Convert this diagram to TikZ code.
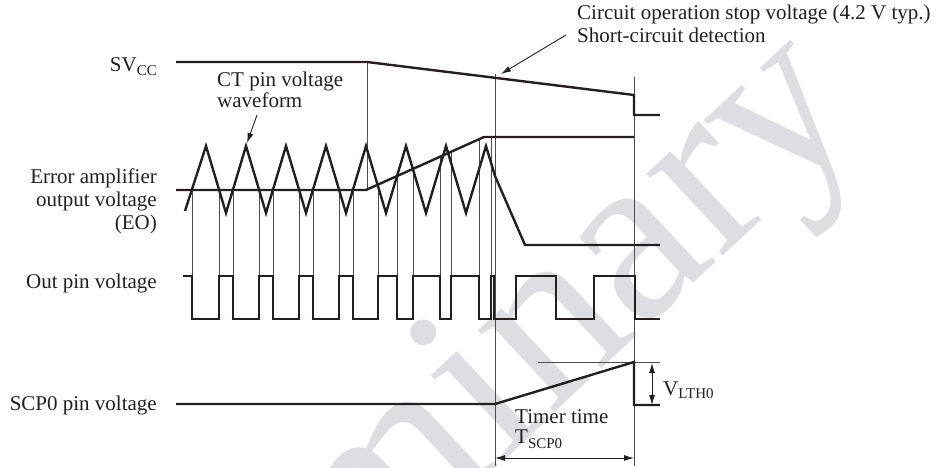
\documentclass[tikz,border=0pt]{standalone}
\usepackage{fontspec}
\setmainfont{Liberation Serif}
\usetikzlibrary{arrows.meta}
\definecolor{wm}{RGB}{221,222,225}
\definecolor{ink}{RGB}{35,31,32}
\newcommand{\lowsub}[2]{\raisebox{-#2}{\fontsize{15}{15}\selectfont #1}}
\begin{document}
\begin{tikzpicture}[x=1pt,y=-1pt,
  sig/.style={line width=2.4pt, ink, line join=miter},
  guide/.style={line width=0.9pt, ink!80},
  lbl/.style={font=\fontsize{21}{23}\selectfont, inner sep=0pt, text=ink},
  arr/.style={line width=0.9pt, ink, -{Latex[length=10pt,width=6pt]}},
  darr/.style={line width=0.9pt, ink, {Latex[length=10pt,width=6pt]}-{Latex[length=10pt,width=6pt]}}]
\useasboundingbox (0,0) rectangle (942,468);
\begin{scope}
\clip (0,0) rectangle (942,468);
\node[anchor=base west, rotate=43, inner sep=0pt, text=wm, font=\fontsize{244}{244}\selectfont] (wmark) at (25,907) {Preliminary};
\end{scope}

% guide lines
\draw[guide] (367,62) coordinate (g1t) -- (367,190) coordinate (g1b);
\draw[guide] (495,74) coordinate (g2t) -- (495,466) coordinate (g2b);
\draw[guide] (634,77) coordinate (g3t) -- (634,466) coordinate (g3b);
\foreach \x in {192,219,233,259,273,299,313,339,353}
  \draw[guide] (\x,190) -- (\x,276);
\foreach \x in {378,397,413,440,451,479}
  \draw[guide] (\x,{190-0.449*(\x-366)}) -- (\x,276);
\draw[guide] (491,137) -- (491,276);
\draw[guide] (538,362) coordinate (lt) -- (660,362) coordinate (lte);

% SVcc
\draw[sig] (176,62) coordinate (sv0) -- (367,62) -- (634,95) -- (634,115) -- (660,115) coordinate (sv1);
% EO
\draw[sig] (176,190) coordinate (eo0) -- (366,190) -- (484,137) -- (634,137) coordinate (eo1);
% CT triangle
\draw[sig] (185,211) coordinate (ct0)
  \foreach \k in {0,...,6} { -- ({206+40*\k},146) -- ({226+40*\k},213) }
  -- (486,146) -- (495,176) -- (525,245) -- (660,245) coordinate (ct1);
% Out pin
\draw[sig] (183,276) coordinate (op0) -- (192,276) -- (192,319) -- (219,319) -- (219,276) -- (233,276) -- (233,319)
  -- (259,319) -- (259,276) -- (273,276) -- (273,319) -- (299,319) -- (299,276) -- (313,276) -- (313,319)
  -- (339,319) -- (339,276) -- (353,276) -- (353,319) -- (378,319) -- (378,276) -- (397,276) -- (397,319)
  -- (413,319) -- (413,276) -- (440,276) -- (440,319) -- (451,319) -- (451,276) -- (479,276) -- (479,319)
  -- (491,319) -- (491,276) -- (494,276) -- (494,319) -- (516,319) -- (516,276) -- (556,276) -- (556,319)
  -- (594,319) -- (594,276) -- (635,276) -- (635,319) -- (660,319) coordinate (op1);
% SCP0
\draw[sig] (176,404) coordinate (sc0) -- (495,404) -- (634,362) -- (634,405) -- (660,405) coordinate (sc1);

% arrows
\coordinate (a1s) at (566,35); \coordinate (a1e) at (501,74);
\draw[arr] (a1s) -- (a1e);
\coordinate (a2s) at (257,115); \coordinate (a2e) at (247,143);
\draw[arr] (a2s) -- (a2e);
\coordinate (ts0) at (495,458); \coordinate (ts1) at (634,458);
\draw[darr] (ts0) -- (ts1);
\coordinate (vl0) at (652,363); \coordinate (vl1) at (652,405);
\draw[darr] (vl0) -- (vl1);

% labels
\node[lbl, anchor=base east] (lsv) at (157,72) {SV\lowsub{CC}{3.5pt}};
\node[lbl, anchor=base west] (lct1) at (217,87) {CT pin voltage};
\node[lbl, anchor=base west] (lct2) at (217,108) {waveform};
\node[lbl, anchor=base east] (leo1) at (157,183) {Error amplifier};
\node[lbl, anchor=base east] (leo2) at (157,206) {output voltage};
\node[lbl, anchor=base east] (leo3) at (157,229) {(EO)};
\node[lbl, anchor=base east] (lop) at (157,288) {Out pin voltage};
\node[lbl, anchor=base east] (lsc) at (157,410) {SCP0 pin voltage};
\node[lbl, anchor=base west] (lc1) at (577,20) {Circuit operation stop voltage (4.2 V typ.)};
\node[lbl, anchor=base west] (lc2) at (577,43) {Short-circuit detection};
\node[lbl, anchor=base west] (lt1) at (515,423) {Timer time};
\node[lbl, anchor=base west] (lt2) at (515,443) {T\lowsub{SCP0}{5pt}};
\node[lbl, anchor=base west] (lv) at (663,395) {V\lowsub{LTH0}{3.5pt}};
\end{tikzpicture}
\end{document}
